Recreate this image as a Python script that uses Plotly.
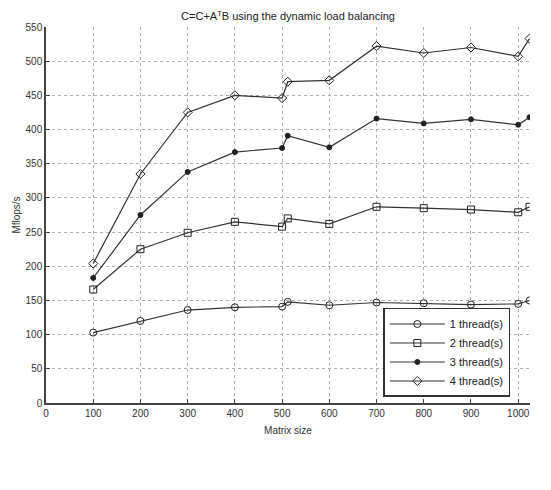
import plotly.graph_objects as go

matrix_size = [100, 200, 300, 400, 500, 512, 600, 700, 800, 900, 1000, 1024]
thread1 = [103, 120, 136, 140, 141, 148, 143, 147, 146, 144, 145, 150]
thread2 = [166, 225, 249, 265, 258, 270, 262, 287, 285, 283, 279, 287]
thread3 = [183, 275, 338, 367, 373, 391, 374, 416, 409, 415, 407, 418]
thread4 = [204, 335, 425, 450, 446, 470, 472, 522, 512, 520, 507, 533]
series_names = ["1 thread(s)", "2 thread(s)", "3 thread(s)", "4 thread(s)"]
x_ticks = [0, 100, 200, 300, 400, 500, 600, 700, 800, 900, 1000]
y_ticks = [0, 50, 100, 150, 200, 250, 300, 350, 400, 450, 500, 550]

symbols = ["circle-open", "square-open", "circle", "diamond-open"]
sizes = [7, 7, 5, 7]

fig = go.Figure()
for name, vals, sym, sz in zip(series_names, [thread1, thread2, thread3, thread4], symbols, sizes):
    fig.add_trace(go.Scatter(
        x=matrix_size, y=vals, name=name, mode="lines+markers",
        line=dict(color="#333333", width=1.2),
        marker=dict(symbol=sym, size=sz, color="#222222", line=dict(width=1, color="#222222")),
    ))

FONT = "Liberation Sans, Arial, sans-serif"
fig.update_layout(
    width=551, height=490,
    margin=dict(l=38, r=29, t=19, b=95, autoexpand=False),
    paper_bgcolor="white", plot_bgcolor="white",
    title=dict(text="C=C+A<sup>T</sup>B using the dynamic load balancing",
               x=0.5, xref="paper", y=1 - 8.5 / 490, yanchor="middle",
               font=dict(family=FONT, size=11, color="#222222")),
    font=dict(family=FONT, size=10, color="#333333"),
    showlegend=True,
    legend=dict(x=0.697, y=0.016, xanchor="left", yanchor="bottom",
                bordercolor="#333333", borderwidth=1.5, bgcolor="white",
                font=dict(family=FONT, size=11, color="#222222"),
                itemwidth=55, tracegroupgap=0),
)
fig.update_xaxes(
    range=[0, 1025], tickvals=x_ticks, ticks="inside", ticklen=4, automargin=False,
    showline=True, linecolor="#444444", linewidth=1.5, mirror=False,
    showgrid=True, gridcolor="#b0b0b0", griddash="dot", gridwidth=1,
    zeroline=False,
    title=dict(text="Matrix size", standoff=9, font=dict(size=10)),
)
fig.update_yaxes(
    range=[0, 550], tickvals=y_ticks, ticks="inside", ticklen=4, automargin=False,
    showline=True, linecolor="#444444", linewidth=1.5, mirror=False,
    showgrid=True, gridcolor="#b0b0b0", griddash="dot", gridwidth=1,
    zeroline=False,
    title=dict(text="Mflops/s", standoff=3, font=dict(size=10)),
)
fig.write_html("out.html")
